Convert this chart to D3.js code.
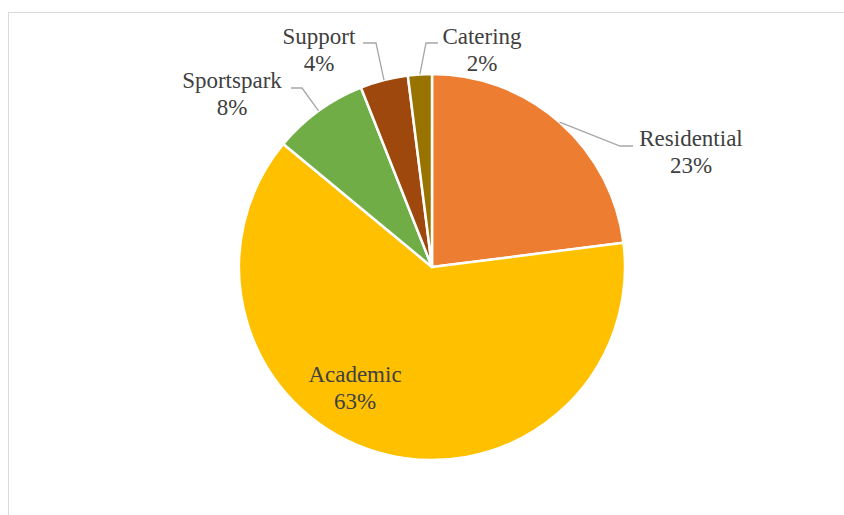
<!DOCTYPE html>
<html>
<head>
<meta charset="utf-8">
<script src="https://cdn.jsdelivr.net/npm/d3@7"></script>
<style>
  html, body { margin: 0; padding: 0; background: #fff; }
  svg { display: block; }
</style>
</head>
<body>
<svg id="chart" width="844" height="515"></svg>
<script>
// Share of spend by area (percent)
const categories = ["Residential", "Academic", "Sportspark", "Support", "Catering"];
const values = [23, 63, 8, 4, 2];
const colors = ["#ED7D31", "#FFC000", "#70AD47", "#9E480E", "#997300"];

// Label placement: text anchor (centre, first baseline) and leader elbow/end
const labelLayout = {
  Residential: { x: 691, y: 146, elbow: [620, 146], end: [633, 146] },
  Academic:    { x: 355, y: 382 },
  Sportspark:  { x: 232, y: 88,  elbow: [302, 88],  end: [291, 88] },
  Support:     { x: 319, y: 44,  elbow: [376, 43],  end: [363, 43] },
  Catering:    { x: 482, y: 44,  elbow: [426, 43],  end: [438, 43] }
};

const svg = d3.select("#chart");
const cx = 432, cy = 267, radius = 193;

// chart area frame
svg.append("rect")
  .attr("x", 8.5).attr("y", 12.5)
  .attr("width", 860).attr("height", 520)
  .attr("fill", "none")
  .attr("stroke", "#d9d9d9")
  .attr("stroke-width", 1);

const data = categories.map((c, i) => ({ name: c, value: values[i], color: colors[i] }));

const pie = d3.pie().sort(null).value(d => d.value);
const arcs = pie(data);
const arc = d3.arc().innerRadius(0).outerRadius(radius);

const g = svg.append("g").attr("transform", `translate(${cx},${cy})`);

g.selectAll("path.slice")
  .data(arcs)
  .join("path")
  .attr("class", "slice")
  .attr("d", arc)
  .attr("fill", d => d.data.color)
  .attr("stroke", "#fff")
  .attr("stroke-width", 2.5)
  .attr("stroke-linejoin", "round");

// leader lines from the slice edge at its mid angle
arcs.forEach(d => {
  const L = labelLayout[d.data.name];
  if (!L.elbow) return;
  const mid = (d.startAngle + d.endAngle) / 2;
  const sx = cx + Math.sin(mid) * radius;
  const sy = cy - Math.cos(mid) * radius;
  svg.append("polyline")
    .attr("points", [[sx, sy], L.elbow, L.end].map(p => p.join(",")).join(" "))
    .attr("fill", "none")
    .attr("stroke", "#a6a6a6")
    .attr("stroke-width", 1.3);
});

const total = d3.sum(values);
const fmt = v => Math.round(v / total * 100) + "%";

arcs.forEach(d => {
  const L = labelLayout[d.data.name];
  const t = svg.append("text")
    .attr("x", L.x).attr("y", L.y)
    .attr("text-anchor", "middle")
    .attr("font-family", "'Liberation Serif', 'Times New Roman', serif")
    .attr("font-size", 23)
    .attr("fill", "#404040");
  t.append("tspan").attr("x", L.x).attr("y", L.y).text(d.data.name);
  t.append("tspan").attr("x", L.x).attr("y", L.y + 27).text(fmt(d.data.value));
});
</script>
</body>
</html>
